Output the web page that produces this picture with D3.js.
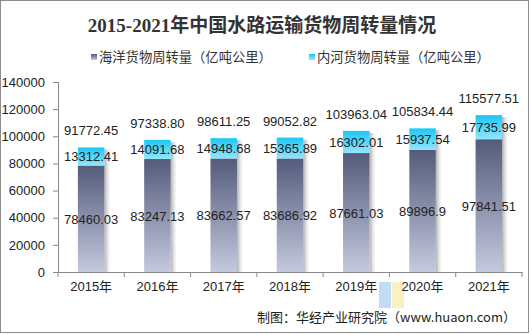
<!DOCTYPE html>
<html><head><meta charset="utf-8">
<script src="https://cdn.jsdelivr.net/npm/d3@7"></script>
<style>
body{margin:0;background:#fff;}
text{font-family:"Liberation Sans","Noto Sans CJK SC",Arial,sans-serif;}
</style></head>
<body><svg id="c" width="532" height="335"></svg>
<script>
const years = ["2015年","2016年","2017年","2018年","2019年","2020年","2021年"];
const ocean = [78460.03,83247.13,83662.57,83686.92,87661.03,89896.9,97841.51];
const river = [13312.41,14091.68,14948.68,15365.89,16302.01,15937.54,17735.99];
const totals = [91772.45,97338.80,98611.25,99052.82,103963.04,105834.44,115577.51];
const oceanLabels = ["78460.03","83247.13","83662.57","83686.92","87661.03","89896.9","97841.51"];
const riverLabels = ["13312.41","14091.68","14948.68","15365.89","16302.01","15937.54","17735.99"];
const totalLabels = ["91772.45","97338.80","98611.25","99052.82","103963.04","105834.44","115577.51"];
const yTicks = [0,20000,40000,60000,80000,100000,120000,140000];
const seriesNames = ["海洋货物周转量（亿吨公里）","内河货物周转量（亿吨公里）"];

const svg = d3.select("#c");
const defs = svg.append("defs");
const g1 = defs.append("linearGradient").attr("id","gOcean").attr("x1",0).attr("y1",0).attr("x2",0).attr("y2",1);
g1.append("stop").attr("offset","0%").attr("stop-color","#545b7b");
g1.append("stop").attr("offset","100%").attr("stop-color","#c4c9de");
const g2 = defs.append("linearGradient").attr("id","gRiver").attr("x1",0).attr("y1",0).attr("x2",0).attr("y2",1);
g2.append("stop").attr("offset","0%").attr("stop-color","#1cc6f7");
g2.append("stop").attr("offset","100%").attr("stop-color","#92e6fd");
const g3 = defs.append("linearGradient").attr("id","gShadow").attr("x1",0).attr("y1",0).attr("x2",1).attr("y2",0);
g3.append("stop").attr("offset","0%").attr("stop-color","#999").attr("stop-opacity",0.8);
g3.append("stop").attr("offset","100%").attr("stop-color","#ddd").attr("stop-opacity",0.1);

// frame
svg.append("rect").attr("x",0.5).attr("y",0.5).attr("width",528).attr("height",332)
  .attr("fill","none").attr("stroke","#8c8c8c");

const x = d3.scaleBand().domain(years).range([58,522]).paddingInner(0.6).paddingOuter(0.3);
const y = d3.scaleLinear().domain([0,140000]).range([272,82]);

// title
svg.append("text").attr("x",262).attr("y",32).attr("text-anchor","middle")
  .attr("font-size",19).attr("font-weight","bold").attr("fill","#333")
  .style("font-family","'Liberation Serif','Noto Sans CJK SC',serif")
  .text("2015-2021年中国水路运输货物周转量情况");

// legend
const leg = [{x:91,fill:"url(#gOcean)"},{x:309,fill:"url(#gRiver)"}];
leg.forEach((l,i)=>{
  svg.append("rect").attr("x",l.x).attr("y",54).attr("width",6).attr("height",6).attr("fill",l.fill);
  svg.append("text").attr("x",l.x+8).attr("y",62).attr("font-size",13.3).attr("fill","#333")
    .style("font-family","'Noto Sans CJK SC',sans-serif").text(seriesNames[i]);
});

// axes
const yAxis = d3.axisLeft(y).tickValues(yTicks).tickSize(5).tickPadding(8).tickFormat(d=>String(d));
const ya = svg.append("g").attr("transform","translate(58,0)").call(yAxis);
ya.select(".domain").attr("stroke","#888");
ya.selectAll(".tick line").attr("stroke","#888");
ya.selectAll(".tick text").attr("font-size",13).attr("fill","#222").style("font-family","'Liberation Sans',Arial,sans-serif");

// watermark logo (behind labels)
svg.append("rect").attr("x",379).attr("y",282).attr("width",12).attr("height",26).attr("fill","#a8cdf5").attr("opacity",0.7);
svg.append("rect").attr("x",392).attr("y",282).attr("width",12).attr("height",26).attr("fill","#f8e9a8").attr("opacity",0.7);

const xa = svg.append("g").attr("transform","translate(0,272)")
  .call(d3.axisBottom(x).tickSize(0).tickPadding(10));
xa.select(".domain").attr("stroke","#888");
xa.selectAll(".tick text").attr("font-size",13).attr("fill","#222");
const bounds = years.map((d,i)=>x(d)-x.step()*x.paddingInner()/2);
bounds.push(522);
xa.selectAll(".bt").data(bounds).enter().append("line")
  .attr("x1",d=>d).attr("x2",d=>d).attr("y1",0).attr("y2",5).attr("stroke","#888");

// bars
const bw = x.bandwidth();
years.forEach((yr,i)=>{
  const bx = x(yr);
  const top = y(ocean[i]+river[i]);
  svg.append("rect").attr("x",bx+bw).attr("y",top+2).attr("width",6).attr("height",272-top-2)
    .attr("fill","url(#gShadow)");
  svg.append("rect").attr("x",bx).attr("y",y(ocean[i])).attr("width",bw).attr("height",272-y(ocean[i]))
    .attr("fill","url(#gOcean)");
  svg.append("rect").attr("x",bx).attr("y",top).attr("width",bw).attr("height",y(ocean[i])-top)
    .attr("fill","url(#gRiver)");
  const cx = bx+bw/2;
  const lab = (t,yy)=>svg.append("text").attr("x",cx).attr("y",yy).attr("text-anchor","middle")
    .attr("font-size",13).attr("fill","#222").style("font-family","'Liberation Sans',Arial,sans-serif").text(t);
  lab(oceanLabels[i],(y(ocean[i])+272)/2+5);
  lab(riverLabels[i],(y(ocean[i])+top)/2+5);
  lab(totalLabels[i],top-12);
});

// footer
svg.append("text").attr("x",516).attr("y",322).attr("text-anchor","end").attr("font-size",13).attr("fill","#222")
  .style("font-family","'Noto Sans CJK SC',sans-serif").text("制图：华经产业研究院（www.huaon.com）");
</script></body></html>
